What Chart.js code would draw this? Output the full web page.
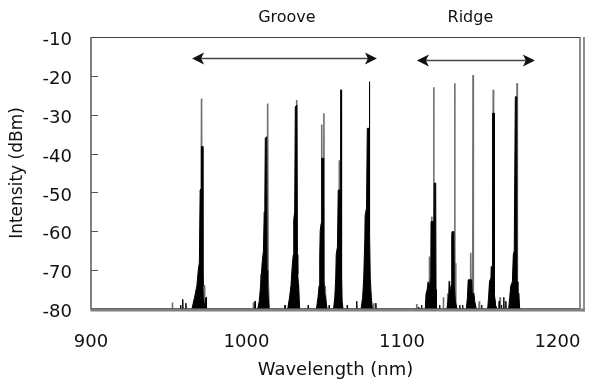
<!DOCTYPE html>
<html>
<head>
<meta charset="utf-8">
<script src="https://cdn.jsdelivr.net/npm/chart.js@4.4.1/dist/chart.umd.min.js"></script>
<style>
  html, body { margin: 0; padding: 0; background: #fff; }
  #wrap { width: 608px; height: 387px; }
</style>
</head>
<body>
<div id="wrap"><canvas id="grafico" width="608" height="387"></canvas></div>
<script>
// ── Dados ──────────────────────────────────────────────────────
const xTicks = [900, 1000, 1100, 1200];
const yTicks = [-80, -70, -60, -50, -40, -30, -20, -10];

// traço preto (preenchido até a base)
const blackNm = [
  900,
  957.5, 957.7, 957.9, 958.8, 959.0, 959.2, 960.8, 961.0, 961.3,
  964.9, 966.6, 968.1, 969.0, 969.7, 970.2, 970.9, 971.0, 971.8, 972.0, 972.5, 973.5, 974.0, 974.3,
  1005.3, 1005.5, 1005.7,
  1007.2, 1008.2, 1009.1, 1010.1, 1010.9, 1011.4, 1011.8, 1012.1, 1013.0, 1013.2, 1013.6, 1014.0, 1014.5,
  1024.6, 1024.8, 1025.0,
  1026.5, 1027.7, 1028.6, 1029.4, 1030.1, 1030.4, 1031.0, 1031.4, 1032.4, 1032.7, 1033.0, 1033.5, 1034.2,
  1039.5, 1039.7, 1039.9,
  1045.0, 1046.0, 1046.7, 1047.1, 1047.4, 1048.0, 1048.4, 1049.4, 1049.6, 1050.2, 1050.8, 1051.8,
  1053.0, 1053.2, 1053.4,
  1056.0, 1056.8, 1057.4, 1057.7, 1058.5, 1059.0, 1060.1, 1060.5, 1060.8, 1061.0, 1061.5, 1062.1,
  1064.6, 1064.8, 1065.0, 1070.7, 1070.9, 1071.1,
  1073.7, 1074.7, 1075.4, 1076.1, 1076.3, 1077.2, 1077.7, 1078.8, 1079.0, 1079.3, 1079.6, 1080.3, 1081.0,
  1083.0, 1083.2, 1083.4,
  1110.6, 1110.8, 1111.0, 1112.4, 1112.6, 1112.8,
  1115.0, 1115.5, 1116.2, 1116.8, 1117.8, 1118.5, 1118.7, 1120.1, 1120.3, 1120.8, 1121.7, 1121.9, 1122.2,
  1124.0, 1124.2, 1124.4,
  1128.9, 1129.6, 1130.2, 1130.5, 1131.0, 1131.6, 1132.0, 1132.2, 1133.4, 1133.6, 1134.3, 1135.4,
  1137.0, 1137.2, 1137.4, 1138.8, 1139.0, 1139.2,
  1141.4, 1142.1, 1142.6, 1144.8, 1145.2, 1146.3, 1146.8, 1147.8,
  1151.0, 1151.2, 1151.4,
  1155.1, 1155.7, 1156.3, 1157.2, 1157.4, 1158.2, 1158.3, 1159.2, 1159.4, 1160.2, 1161.1,
  1162.3, 1162.5, 1162.7, 1163.8, 1164.0, 1164.2, 1165.3, 1165.5, 1165.7, 1166.6, 1166.8, 1167.0,
  1168.6, 1169.3, 1170.0, 1171.0, 1171.6, 1172.2, 1172.9, 1173.8, 1174.0, 1174.6, 1175.2, 1175.7,
  1214.5
];
const blackDb = [
  -80,
  -80, -79, -80, -80, -77.5, -80, -80, -78.5, -80,
  -80, -77, -74, -70, -68, -49.4, -49, -38.2, -38.2, -74, -80, -78, -77, -80,
  -80, -78, -80,
  -80, -78, -74, -68, -65, -55, -52, -36, -35.7, -70, -74, -77, -80,
  -80, -79, -80,
  -80, -77, -74, -69, -66, -57, -55, -28, -27.5, -66, -71, -75, -80,
  -80, -79, -80,
  -80, -77, -74, -67, -60, -58, -41.2, -41.2, -72, -76, -77, -80,
  -80, -79, -80,
  -80, -77, -72, -66, -64, -49.4, -49.4, -70, -23.6, -70, -78, -80,
  -80, -79, -80, -80, -78, -80,
  -80, -77, -72, -62, -56, -54, -33.5, -33.5, -21.5, -60, -72, -77, -80,
  -80, -78.5, -80,
  -80, -79.5, -80, -80, -79, -80,
  -80, -76, -75, -73, -74, -72, -57.5, -57.5, -72, -47.6, -47.6, -75, -80,
  -80, -79, -80,
  -80, -78, -76, -73, -76, -74, -61, -60.1, -60.1, -74, -78, -80,
  -80, -79, -80, -80, -79, -80,
  -80, -77, -72.5, -72.5, -76, -76, -78, -80,
  -80, -79, -80,
  -80, -77, -73, -72, -69.1, -69, -29.6, -29.6, -76, -79, -80,
  -80, -78, -80, -80, -79, -80, -80, -77, -80, -80, -78, -80,
  -80, -77, -74, -73, -66, -65, -25.4, -25.4, -73, -77, -76, -80,
  -80
];

// traço cinza (linhas finas)
const grayNm = [
  900,
  952.1, 952.3, 952.5,
  970.7, 971.1, 971.4, 972.3, 972.8, 973.1,
  1004.2, 1004.4, 1004.6,
  1009.0, 1009.3, 1009.6, 1013.3, 1013.6, 1013.9, 1014.3, 1014.6,
  1032.0, 1032.3, 1032.6, 1033.5, 1034.0,
  1048.2, 1048.4, 1048.6, 1049.6, 1049.8, 1050.0, 1050.6, 1051.2,
  1059.5, 1059.7, 1059.9, 1060.6, 1060.8, 1061.1,
  1081.6, 1081.8, 1082.0,
  1109.3, 1109.5, 1109.7,
  1117.4, 1117.6, 1117.8, 1118.9, 1119.1, 1119.3, 1120.2, 1120.4, 1120.6,
  1126.4, 1126.6, 1126.8,
  1129.1, 1129.3, 1129.5, 1130.2, 1130.4, 1130.6, 1133.7, 1133.9, 1134.1, 1134.3, 1134.6,
  1143.9, 1144.2, 1144.5, 1145.5, 1145.7, 1145.9,
  1149.5, 1149.7, 1149.9,
  1156.4, 1156.6, 1156.8, 1158.5, 1158.7, 1158.9, 1159.6, 1159.8, 1160.0,
  1162.9, 1163.1, 1163.3,
  1173.9, 1174.0, 1174.2,
  1214.5
];
const grayDb = [
  -80,
  -80, -78.3, -80,
  -80, -25.8, -70, -74, -74, -80,
  -80, -78.3, -80,
  -80, -71, -80, -80, -27.1, -72, -72, -80,
  -80, -26.2, -72, -74, -80,
  -80, -32.5, -80, -80, -29.6, -76, -74, -80,
  -80, -41.7, -80, -80, -23.6, -80,
  -80, -78.5, -80,
  -80, -78.7, -80,
  -80, -66.5, -80, -80, -56.2, -80, -80, -22.9, -80,
  -80, -77, -80,
  -80, -76, -80, -80, -72.7, -80, -80, -21.9, -72, -68.2, -80,
  -80, -65.5, -80, -80, -19.8, -80,
  -80, -78, -80,
  -80, -72.7, -80, -80, -23.6, -80, -80, -77.5, -80,
  -80, -77, -80,
  -80, -21.9, -80,
  -80
];

// anotações
const regioes  = ['Groove', 'Ridge'];
const setaIni  = [965.0, 1109.6];
const setaFim  = [1083.9, 1185.5];
const setaDb   = [-15.4, -15.9];
const rotuloNm = [1026, 1144];
const rotuloDb = [-5.1, -5.1];

const FONTE = "'DejaVu Sans', sans-serif";

function pontos(xs, ys) {
  return xs.map((v, i) => ({ x: v, y: ys[i] }));
}

// ── Moldura do gráfico ─────────────────────────────────────────
const moldura = {
  id: 'moldura',
  afterDatasetsDraw(chart) {
    const { ctx, chartArea: a, scales: { y } } = chart;
    ctx.save();
    ctx.lineCap = 'butt';
    // topo
    ctx.strokeStyle = '#444'; ctx.lineWidth = 1;
    ctx.beginPath(); ctx.moveTo(a.left, a.top + 0.5); ctx.lineTo(a.right, a.top + 0.5); ctx.stroke();
    // esquerda
    ctx.strokeStyle = '#555'; ctx.lineWidth = 1.5;
    ctx.beginPath(); ctx.moveTo(a.left, a.top); ctx.lineTo(a.left, a.bottom + 1); ctx.stroke();
    // marcas do eixo y (para dentro)
    ctx.lineWidth = 1;
    yTicks.forEach(v => {
      if (v === -80 || v === -10) return;
      const py = Math.round(y.getPixelForValue(v)) + 0.5;
      ctx.beginPath(); ctx.moveTo(a.left, py); ctx.lineTo(a.left + 7, py); ctx.stroke();
    });
    // direita (linha dupla)
    ctx.strokeStyle = '#6a6a6a'; ctx.lineWidth = 1.5;
    ctx.beginPath(); ctx.moveTo(a.right, a.top); ctx.lineTo(a.right, a.bottom + 1); ctx.stroke();
    ctx.beginPath(); ctx.moveTo(a.right + 4, a.top); ctx.lineTo(a.right + 4, a.bottom + 2.5); ctx.stroke();
    // base
    ctx.strokeStyle = '#808080'; ctx.lineWidth = 3;
    ctx.beginPath(); ctx.moveTo(a.left - 0.5, a.bottom + 1); ctx.lineTo(a.right + 4.5, a.bottom + 1); ctx.stroke();
    ctx.restore();
  }
};

// ── Setas e rótulos ────────────────────────────────────────────
function ponta(ctx, tx, ty, dir) {
  ctx.beginPath();
  ctx.moveTo(tx, ty);
  ctx.lineTo(tx + dir * 12, ty - 6);
  ctx.lineTo(tx + dir * 9, ty);
  ctx.lineTo(tx + dir * 12, ty + 6);
  ctx.closePath();
  ctx.fill();
}

const setas = {
  id: 'setas',
  afterDraw(chart) {
    const { ctx, scales: { x, y } } = chart;
    ctx.save();
    for (let i = 0; i < regioes.length; i++) {
      const x1 = x.getPixelForValue(setaIni[i]);
      const x2 = x.getPixelForValue(setaFim[i]);
      const py = Math.round(y.getPixelForValue(setaDb[i])) + 0.5;
      ctx.strokeStyle = '#444'; ctx.lineWidth = 1.5;
      ctx.beginPath(); ctx.moveTo(x1 + 8, py); ctx.lineTo(x2 - 8, py); ctx.stroke();
      ctx.fillStyle = '#111';
      ponta(ctx, x1, py, 1);
      ponta(ctx, x2, py, -1);
      ctx.fillStyle = '#111';
      ctx.font = '16px ' + FONTE;
      ctx.textAlign = 'center';
      ctx.textBaseline = 'middle';
      ctx.fillText(regioes[i], x.getPixelForValue(rotuloNm[i]), y.getPixelForValue(rotuloDb[i]));
    }
    ctx.restore();
  }
};

// ── Gráfico ────────────────────────────────────────────────────
const ctx = document.getElementById('grafico').getContext('2d');
new Chart(ctx, {
  type: 'line',
  data: {
    datasets: [
      { label: 'preto', data: pontos(blackNm, blackDb), borderColor: '#000', backgroundColor: '#000',
        borderWidth: 1, fill: 'start', pointRadius: 0, tension: 0, order: 1 },
      { label: 'cinza', data: pontos(grayNm, grayDb), borderColor: '#707070',
        borderWidth: 1.6, fill: false, pointRadius: 0, tension: 0, order: 2 }
    ]
  },
  options: {
    responsive: false, animation: false, devicePixelRatio: 1,
    layout: { padding: { top: 37, right: 28, bottom: 0, left: 0 } },
    plugins: { legend: { display: false }, tooltip: { enabled: false } },
    scales: {
      x: {
        type: 'linear', min: 900, max: 1214.5,
        grid: { display: false, drawTicks: false }, border: { display: false },
        afterBuildTicks: s => { s.ticks = xTicks.map(v => ({ value: v })); },
        afterFit: s => { s.height = 78; },
        ticks: { padding: 23, maxRotation: 0, color: '#111', font: { family: FONTE, size: 18 },
                 callback: v => String(v) },
        title: { display: true, text: 'Wavelength (nm)', color: '#111',
                 font: { family: FONTE, size: 18 }, padding: { top: 0, bottom: 6 } }
      },
      y: {
        type: 'linear', min: -80, max: -10,
        grid: { display: false, drawTicks: false }, border: { display: false },
        afterBuildTicks: s => { s.ticks = yTicks.map(v => ({ value: v })); },
        afterFit: s => { s.width = 91; },
        ticks: { padding: 19, labelOffset: 3.5, color: '#111', font: { family: FONTE, size: 18 },
                 callback: v => String(v) },
        title: { display: true, text: 'Intensity (dBm)', color: '#111',
                 font: { family: FONTE, size: 17 }, padding: { top: 7, bottom: 0 } }
      }
    }
  },
  plugins: [moldura, setas]
});
</script>
</body>
</html>
